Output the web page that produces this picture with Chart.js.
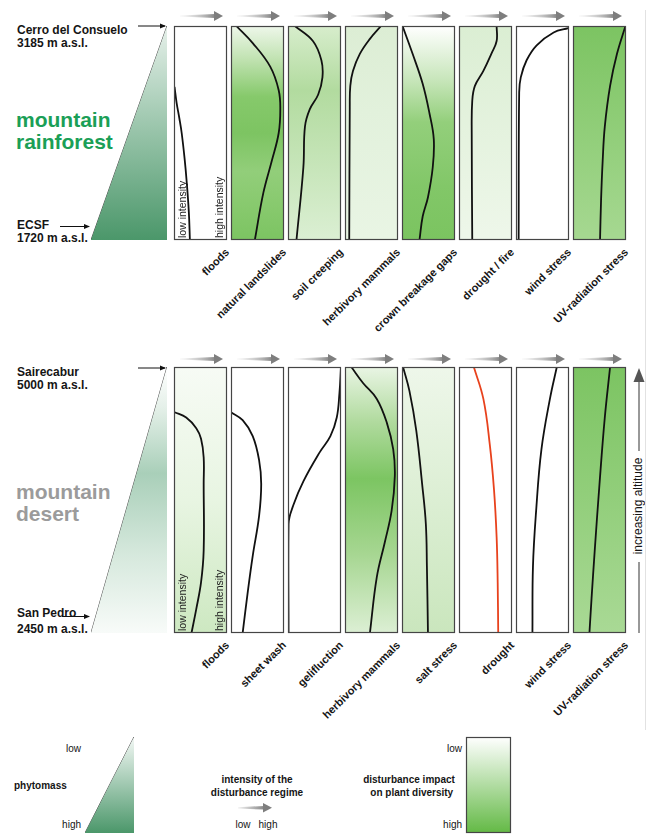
<!DOCTYPE html>
<html>
<head>
<meta charset="utf-8">
<script src="https://cdn.jsdelivr.net/npm/chart.js@4.4.1/dist/chart.umd.min.js"></script>
<style>
  body { margin:0; width:654px; height:835px; overflow:hidden; position:relative; background:#fff;
         font-family:"Liberation Sans", Arial, sans-serif; color:#151515; }
  canvas { position:absolute; }
  .t { position:absolute; white-space:nowrap; }
  .b { font-weight:bold; }
  .h12 { font-size:12px; line-height:14px; font-weight:bold; }
  .big { font-size:21px; line-height:21.5px; font-weight:bold; }
  .lg { font-size:10px; line-height:13px; }
  .rot { position:absolute; width:0; height:0; transform:rotate(-45deg); transform-origin:0 0; }
  .rot span { position:absolute; right:0; top:-7px; line-height:14px; font-size:11px; font-weight:bold; white-space:nowrap; }
  svg { position:absolute; left:0; top:0; }
</style>
</head>
<body>

<!-- site labels, rainforest -->
<div class="t h12" style="left:17px;top:23px">Cerro del Consuelo</div>
<div class="t h12" style="left:17px;top:36px">3185 m a.s.l.</div>
<div class="t big" style="left:16px;top:109px;color:#1b9f57">mountain<br>rainforest</div>
<div class="t h12" style="left:17px;top:218px">ECSF</div>
<div class="t h12" style="left:17px;top:231px">1720 m a.s.l.</div>

<!-- site labels, desert -->
<div class="t h12" style="left:17px;top:365px">Sairecabur</div>
<div class="t h12" style="left:17px;top:378px">5000 m a.s.l.</div>
<div class="t big" style="left:16px;top:481px;color:#9b9b9b">mountain<br>desert</div>
<div class="t h12" style="left:17px;top:606px">San Pedro</div>
<div class="t h12" style="left:17px;top:622px">2450 m a.s.l.</div>

<!-- legend -->
<div class="t lg" style="left:40px;width:41px;text-align:right;top:742px">low</div>
<div class="t lg" style="left:40px;width:41px;text-align:right;top:818px">high</div>
<div class="t lg b" style="left:14px;top:779px">phytomass</div>
<div class="t lg b" style="left:197px;width:120px;text-align:center;top:773px">intensity of the<br>disturbance regime</div>
<div class="t lg" style="left:233px;width:20px;text-align:center;top:818px">low</div>
<div class="t lg" style="left:258px;width:20px;text-align:center;top:818px">high</div>
<div class="t lg b" style="left:349px;width:120px;text-align:center;top:773px">disturbance impact<br>&nbsp;&nbsp;on plant diversity</div>
<div class="t lg" style="left:420px;width:42px;text-align:right;top:742px">low</div>
<div class="t lg" style="left:420px;width:42px;text-align:right;top:818px">high</div>

<div class="t" style="font-size:12px;line-height:14px;transform:translate(-50%,-50%) rotate(-90deg);left:638px;top:506px">increasing altitude</div>

<svg width="654" height="835">
  <defs>
    <marker id="ah" markerWidth="6" markerHeight="6" refX="5" refY="3" orient="auto" markerUnits="userSpaceOnUse">
      <path d="M0,0.5 L6,3 L0,5.5 z" fill="#111"/>
    </marker>
    <linearGradient id="lgArrow" x1="0" x2="1" y1="0" y2="0">
      <stop offset="0" stop-color="#f2f2f2"/><stop offset="1" stop-color="#888"/>
    </linearGradient>
  </defs>
  <line x1="138" y1="26" x2="165" y2="26" stroke="#111" stroke-width="1" marker-end="url(#ah)"/>
  <line x1="60" y1="226.5" x2="89" y2="226.5" stroke="#111" stroke-width="1" marker-end="url(#ah)"/>
  <line x1="138" y1="368" x2="165" y2="368" stroke="#111" stroke-width="1" marker-end="url(#ah)"/>
  <line x1="62" y1="616.5" x2="89" y2="616.5" stroke="#111" stroke-width="1" marker-end="url(#ah)"/>
  <!-- altitude axis arrow -->
  <line x1="639" y1="382" x2="639" y2="451" stroke="#333" stroke-width="1"/>
  <line x1="639" y1="562" x2="639" y2="633" stroke="#333" stroke-width="1"/>
  <path d="M633.5,382 L639,368 L644.5,382 z" fill="#555"/>
  <line x1="645.5" y1="10" x2="645.5" y2="730" stroke="#e2e2e2" stroke-width="1"/>
  <!-- legend arrow -->
  <path d="M238,807.2 L264,806 L264,809.6 L238,808.4 z" fill="url(#lgArrow)"/>
  <path d="M263,803 L272,807.8 L263,812.6 z" fill="#7e7e7e"/>
</svg>

<script>
// Disturbance factors along the two altitudinal transects
const rainforestFactors = ['floods', 'natural landslides', 'soil creeping', 'herbivory mammals',
                           'crown breakage gaps', 'drought / fire', 'wind stress', 'UV-radiation stress'];
const desertFactors = ['floods', 'sheet wash', 'gelifluction', 'herbivory mammals',
                       'salt stress', 'drought', 'wind stress', 'UV-radiation stress'];

// Each profile: [intensity (0 low .. 1 high), relative altitude (0 base .. 1 summit)]
const rfFloods      = [[0.01,0.715],[0.05,0.64],[0.10,0.57],[0.145,0.5],[0.20,0.38],[0.24,0.27],[0.28,0.13],[0.30,0]];
const rfLandslides  = [[0.10,1],[0.41,0.92],[0.74,0.81],[0.90,0.70],[0.93,0.61],[0.90,0.50],[0.77,0.37],[0.61,0.22],[0.45,0]];
const rfSoilCreep   = [[0.13,1],[0.47,0.93],[0.63,0.84],[0.65,0.76],[0.57,0.68],[0.41,0.61],[0.32,0.53],[0.29,0.34],[0.16,0]];
const rfHerbivory   = [[0.68,1],[0.47,0.94],[0.28,0.87],[0.15,0.79],[0.10,0.72],[0.09,0.62],[0.08,0]];
const rfCrownGaps   = [[0.01,1],[0.20,0.87],[0.39,0.73],[0.52,0.59],[0.60,0.47],[0.58,0.34],[0.49,0.20],[0.39,0.11],[0.33,0]];
const rfDroughtFire = [[0.71,1],[0.71,0.93],[0.61,0.87],[0.46,0.79],[0.30,0.72],[0.25,0.65],[0.24,0.50],[0.25,0]];
const rfWind        = [[0.99,0.99],[0.71,0.97],[0.39,0.91],[0.20,0.84],[0.09,0.76],[0.06,0.69],[0.05,0]];
const rfUV          = [[0.99,1],[0.83,0.87],[0.70,0.72],[0.60,0.53],[0.56,0.37],[0.53,0.19],[0.51,0]];

const deFloods      = [[0.01,0.83],[0.23,0.81],[0.42,0.77],[0.51,0.73],[0.56,0.66],[0.56,0.56],[0.56,0.31],[0.51,0.19],[0.42,0.09],[0.33,0]];
const deSheetWash   = [[0.0,0.83],[0.22,0.80],[0.41,0.74],[0.53,0.65],[0.57,0.56],[0.53,0.44],[0.41,0.29],[0.32,0.16],[0.22,0]];
const deGeliflux    = [[1.0,1],[0.97,0.90],[0.92,0.81],[0.80,0.74],[0.60,0.68],[0.29,0.57],[0.10,0.48],[0.01,0.41],[0.01,0]];
const deHerbivory   = [[0.12,1],[0.34,0.94],[0.60,0.88],[0.79,0.79],[0.91,0.69],[0.94,0.59],[0.88,0.46],[0.75,0.34],[0.60,0.21],[0.47,0]];
const deSalt        = [[0.02,1],[0.14,0.91],[0.27,0.76],[0.38,0.56],[0.45,0.41],[0.47,0.25],[0.49,0]];
const deDrought     = [[0.28,1],[0.46,0.88],[0.58,0.71],[0.66,0.54],[0.71,0.36],[0.73,0.19],[0.74,0]];
const deWind        = [[0.77,1],[0.64,0.88],[0.48,0.69],[0.38,0.46],[0.32,0.25],[0.31,0]];
const deUV          = [[0.70,1],[0.60,0.81],[0.50,0.56],[0.41,0.31],[0.35,0.13],[0.31,0]];

const rainforestCurves = [rfFloods, rfLandslides, rfSoilCreep, rfHerbivory, rfCrownGaps, rfDroughtFire, rfWind, rfUV];
const desertCurves = [deFloods, deSheetWash, deGeliflux, deHerbivory, deSalt, deDrought, deWind, deUV];

// Shading of each column (top -> bottom): disturbance impact on plant diversity
const WHITE = [[0,'#ffffff'],[1,'#ffffff']];
const rainforestShades = [
  WHITE,
  [[0,'#eef7ea'],[0.15,'#c2e3b3'],[0.33,'#86c96b'],[0.5,'#7dc462'],[0.68,'#92ce7a'],[0.85,'#87c96d'],[1,'#7cc462']],
  [[0,'#d7edcc'],[0.3,'#b2db9f'],[1,'#dbefd3']],
  [[0,'#dcedd4'],[0.4,'#e2f1dc'],[1,'#e9f5e4']],
  [[0,'#ffffff'],[0.25,'#c8e6bb'],[0.45,'#93cf7b'],[0.75,'#82c768'],[1,'#7bc460']],
  [[0,'#dbeed3'],[1,'#eef7ea']],
  WHITE,
  [[0,'#7cc462'],[1,'#a6d891']]
];
const desertShades = [
  [[0,'#f7fbf5'],[0.5,'#e8f5e2'],[1,'#cde8c1']],
  WHITE,
  WHITE,
  [[0,'#e9f5e4'],[0.2,'#b2dba0'],[0.42,'#7cc562'],[0.7,'#a6d691'],[1,'#dcefd4']],
  [[0,'#eef7ea'],[1,'#cae6bd']],
  WHITE,
  WHITE,
  [[0,'#7cc462'],[1,'#a9d995']]
];
const lineColors = { default:'#111111', drought:'#e8421d' };

// Column layout
const COL_X0 = 174, COL_STEP = 57, COL_W = 53;
const rows = [
  { factors: rainforestFactors, curves: rainforestCurves, shades: rainforestShades, top: 26, bottom: 240, arrowUp: 10, labelY: 250 },
  { factors: desertFactors, curves: desertCurves, shades: desertShades, top: 367, bottom: 633, arrowUp: 8, labelY: 643 }
];

// Plugin: column shading, frame, intensity arrow and axis notes
const decor = {
  id: 'decor',
  beforeDatasetsDraw(chart, args, o) {
    const { ctx, chartArea: a } = chart;
    ctx.save();
    if (o.stops) {
      const g = ctx.createLinearGradient(0, a.top, 0, a.bottom);
      o.stops.forEach(([p, c]) => g.addColorStop(p, c));
      ctx.fillStyle = g;
      ctx.fillRect(a.left, a.top, a.right - a.left, a.bottom - a.top);
    }
    if (o.notes) {
      ctx.fillStyle = '#222';
      ctx.font = '10.5px "Liberation Sans", Arial, sans-serif';
      ctx.textAlign = 'left';
      ctx.textBaseline = 'alphabetic';
      [['low intensity', 11.5], ['high intensity', 49]].forEach(([txt, dx]) => {
        ctx.save();
        ctx.translate(a.left + dx, a.bottom - 2);
        ctx.rotate(-Math.PI / 2);
        ctx.fillText(txt, 0, 0);
        ctx.restore();
      });
    }
    ctx.restore();
  },
  afterDatasetsDraw(chart, args, o) {
    const { ctx, chartArea: a } = chart;
    ctx.save();
    if (o.frame) {
      ctx.strokeStyle = o.frame;
      ctx.lineWidth = 1.2;
      ctx.strokeRect(a.left + 0.5, a.top + 0.5, a.right - a.left - 1, a.bottom - a.top - 1);
    }
    if (o.arrowUp) {
      const y = a.top - o.arrowUp;
      const xs = a.left + 6, xh = a.right - 12, xt = a.right - 4;
      const g = ctx.createLinearGradient(xs, 0, xh, 0);
      g.addColorStop(0, 'rgba(200,200,200,0.15)');
      g.addColorStop(1, '#878787');
      ctx.fillStyle = g;
      ctx.beginPath();
      ctx.moveTo(xs, y - 0.6); ctx.lineTo(xh, y - 1.9); ctx.lineTo(xh, y + 1.9); ctx.lineTo(xs, y + 0.6);
      ctx.closePath(); ctx.fill();
      ctx.fillStyle = '#7e7e7e';
      ctx.beginPath();
      ctx.moveTo(xh - 1, y - 5); ctx.lineTo(xt, y); ctx.lineTo(xh - 1, y + 5);
      ctx.closePath(); ctx.fill();
    }
    ctx.restore();
  }
};

function makeChart(left, top, width, height, pad, datasets, decorOpts) {
  const cv = document.createElement('canvas');
  cv.width = width + pad.left + pad.right;
  cv.height = height + pad.top + pad.bottom;
  cv.style.left = (left - pad.left) + 'px';
  cv.style.top = (top - pad.top) + 'px';
  document.body.appendChild(cv);
  return new Chart(cv, {
    type: 'scatter',
    data: { datasets },
    options: {
      responsive: false, animation: false, events: [],
      layout: { padding: pad },
      plugins: { legend: { display: false }, tooltip: { enabled: false }, decor: decorOpts },
      scales: {
        x: { type: 'linear', min: 0, max: 1, display: false },
        y: { type: 'linear', min: 0, max: 1, display: false }
      }
    },
    plugins: [decor]
  });
}

const toPts = arr => arr.map(([x, y]) => ({ x, y }));

// Disturbance columns
rows.forEach(row => {
  row.curves.forEach((curve, i) => {
    const left = COL_X0 + i * COL_STEP;
    const colour = row.factors[i] === 'drought' ? lineColors.drought : lineColors.default;
    makeChart(left, row.top, COL_W, row.bottom - row.top, { top: 22, left: 2, right: 2, bottom: 2 }, [{
      data: toPts(curve), showLine: true, borderColor: colour, borderWidth: 1.8,
      pointRadius: 0, tension: 0.4, fill: false
    }], { stops: row.shades[i], frame: '#454545', arrowUp: row.arrowUp, notes: row.factors[i] === 'floods' });

    // rotated factor name below the column
    const wrap = document.createElement('div');
    wrap.className = 'rot';
    wrap.style.left = (left + COL_W) + 'px';
    wrap.style.top = row.labelY + 'px';
    const sp = document.createElement('span');
    sp.textContent = row.factors[i];
    wrap.appendChild(sp);
    document.body.appendChild(wrap);
  });
});

// Phytomass wedges: the hypotenuse rises from base (0,0) to summit (1,1)
const wedgeEdge = [[0, 0], [1, 1]];
const wedgeOutline = [[0, 0], [1, 1], [1, 0]];
function wedge(left, top, width, height, stops) {
  makeChart(left, top, width, height, { top: 1, left: 1, right: 1, bottom: 1 }, [
    {
      data: toPts(wedgeEdge), showLine: true, pointRadius: 0, borderWidth: 0, tension: 0, fill: 'origin',
      backgroundColor: ctx => {
        const a = ctx.chart.chartArea;
        if (!a) return 'transparent';
        const g = ctx.chart.ctx.createLinearGradient(0, a.top, 0, a.bottom);
        stops.forEach(([p, c]) => g.addColorStop(p, c));
        return g;
      }
    },
    { data: toPts(wedgeOutline), showLine: true, pointRadius: 0, borderWidth: 1, borderColor: '#4d4d4d', tension: 0, fill: false }
  ], {});
}
wedge(91, 26, 76, 214, [[0, '#e6f0ea'], [0.4, '#a6ccb5'], [1, '#4b976a']]);
wedge(91, 367, 76, 266, [[0, '#ffffff'], [0.15, '#e5f0e9'], [0.4, '#a9cfb9'], [0.7, '#d5e8dc'], [1, '#f8fbf9']]);
wedge(85, 737, 49, 96, [[0, '#f3f8f5'], [1, '#4b976a']]);

// Legend column for disturbance impact
makeChart(466, 737, 45, 96, { top: 1, left: 1, right: 1, bottom: 1 }, [],
  { stops: [[0, '#ffffff'], [1, '#63b945']], frame: '#454545' });
</script>
</body>
</html>
